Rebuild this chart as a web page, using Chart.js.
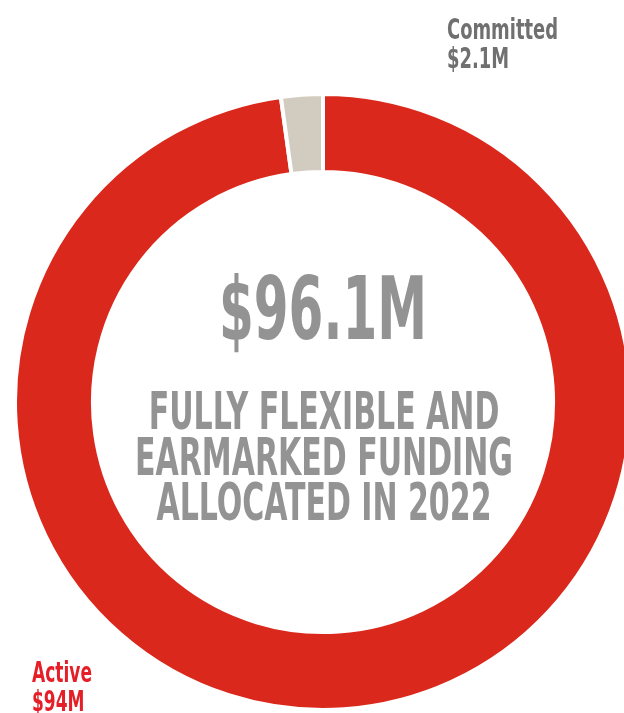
<!DOCTYPE html>
<html>
<head>
<meta charset="utf-8">
<title>Funding allocated in 2022</title>
<script src="https://cdn.jsdelivr.net/npm/chart.js@4/dist/chart.umd.min.js"></script>
<style>
    html, body {
        margin: 0;
        padding: 0;
        background: #ffffff;
        overflow: hidden;
    }
    .chart-wrap {
        position: relative;
        width: 640px;
        height: 713px;
    }
</style>
</head>
<body>
<div class="chart-wrap">
    <canvas id="fundingChart"></canvas>
</div>
<script>
    // Data
    const categories = ['Active', 'Committed'];
    const amounts = [94, 2.1];          // $ millions
    const sliceColors = ['#da291c', '#d1ccbf'];
    const labelColors = ['#e51f28', '#707070'];
    const centerLines = ['FULLY FLEXIBLE AND', 'EARMARKED FUNDING', 'ALLOCATED IN 2022'];

    const FONT = '"Liberation Sans Narrow", "DejaVu Sans Condensed", "Roboto", sans-serif';

    function money(v) {
        return '$' + (Math.round(v * 10) / 10) + 'M';
    }

    // horizontal squeeze so that `ref` text would be `width` px wide
    function fitScale(ctx, ref, size, width) {
        ctx.save();
        ctx.font = 'bold ' + size + 'px ' + FONT;
        const w = ctx.measureText(ref).width;
        ctx.restore();
        return width / w;
    }

    function squeezed(ctx, text, x, y, size, scaleX, align) {
        ctx.save();
        ctx.font = 'bold ' + size + 'px ' + FONT;
        ctx.textAlign = align;
        ctx.textBaseline = 'alphabetic';
        ctx.translate(x, y);
        ctx.scale(scaleX, 1);
        ctx.fillText(text, 0, 0);
        ctx.restore();
    }

    const centerText = {
        id: 'centerText',
        afterDraw(chart) {
            const ctx = chart.ctx;
            const arc = chart.getDatasetMeta(0).data[0];
            const cx = arc.x;
            const cy = arc.y;
            const total = chart.data.datasets[0].data.reduce((a, b) => a + b, 0);
            const totalText = '$' + total.toFixed(1) + 'M';

            ctx.fillStyle = '#939393';
            const bigScale = fitScale(ctx, totalText, 88, 208);
            squeezed(ctx, totalText, cx, cy - 63, 88, bigScale, 'center');

            const lineScale = fitScale(ctx, centerLines[1], 51, 378);
            centerLines.forEach(function (line, i) {
                squeezed(ctx, line, cx + 1, cy + 27 + i * 45.5, 51, lineScale, 'center');
            });
        }
    };

    const sliceLabels = {
        id: 'sliceLabels',
        afterDraw(chart) {
            const ctx = chart.ctx;
            const labels = chart.data.labels;
            const data = chart.data.datasets[0].data;

            // Active, bottom left
            ctx.fillStyle = labelColors[0];
            const s0 = fitScale(ctx, labels[0], 28, 60);
            squeezed(ctx, labels[0], 32, 682, 28, s0, 'left');
            squeezed(ctx, money(data[0]), 32, 711, 28, s0, 'left');

            // Committed, top right
            ctx.fillStyle = labelColors[1];
            const s1 = fitScale(ctx, labels[1], 29, 111);
            squeezed(ctx, labels[1], 447, 39, 29, s1, 'left');
            squeezed(ctx, money(data[1]), 447, 68, 29, s1, 'left');
        }
    };

    document.addEventListener('DOMContentLoaded', function () {
        const ctx = document.getElementById('fundingChart').getContext('2d');
        new Chart(ctx, {
            type: 'doughnut',
            data: {
                labels: categories,
                datasets: [{
                    data: amounts,
                    backgroundColor: sliceColors,
                    hoverBackgroundColor: sliceColors,
                    borderColor: '#ffffff',
                    hoverBorderColor: '#ffffff',
                    borderWidth: 4,
                    hoverBorderWidth: 4
                }]
            },
            options: {
                responsive: true,
                maintainAspectRatio: false,
                animation: false,
                cutout: '74.7%',
                rotation: 0,
                layout: {
                    padding: { left: 13, right: 7, top: 92, bottom: 1 }
                },
                plugins: {
                    legend: { display: false },
                    tooltip: { enabled: false }
                },
                events: []
            },
            plugins: [centerText, sliceLabels]
        });
    });
</script>
</body>
</html>
